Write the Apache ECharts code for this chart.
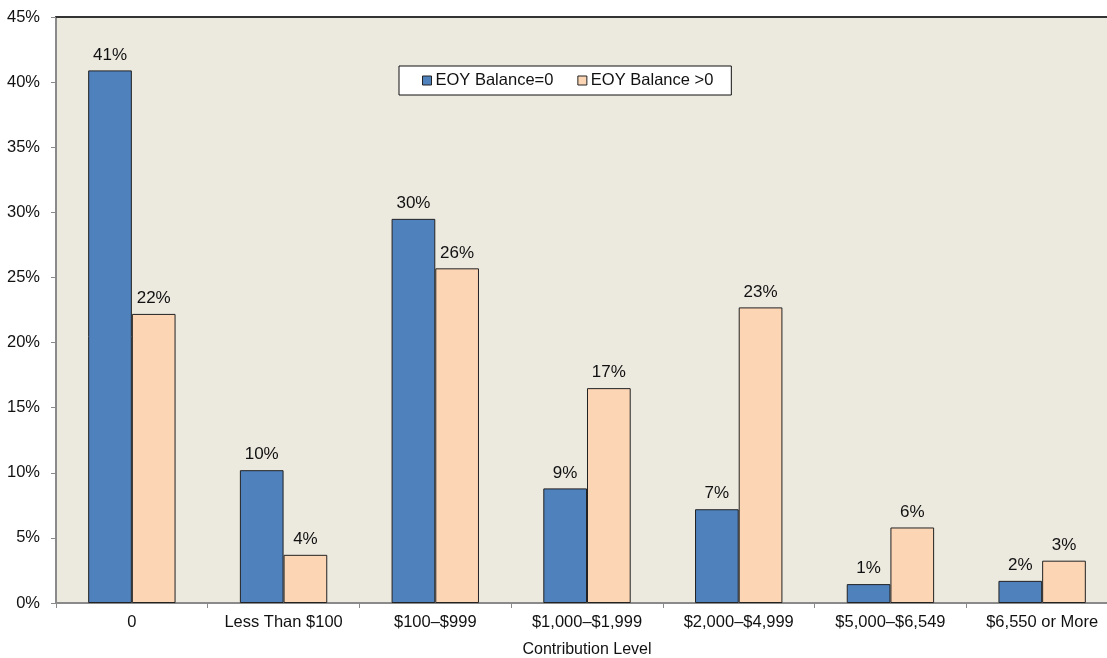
<!DOCTYPE html>
<html>
<head>
<meta charset="utf-8">
<script src="https://cdn.jsdelivr.net/npm/echarts@6/dist/echarts.min.js"></script>
<style>
  html, body { margin: 0; padding: 0; background: #ffffff; }
  #chart { width: 1107px; height: 658px; }
</style>
</head>
<body>
<div id="chart"></div>
<script>
// Contribution levels on the category axis
const categories = ['0', 'Less Than $100', '$100\u2013$999', '$1,000\u2013$1,999',
  '$2,000\u2013$4,999', '$5,000\u2013$6,549', '$6,550 or More'];
const seriesNames = ['EOY Balance=0', 'EOY Balance >0'];
// Share of accounts (percent) at each contribution level
const balanceZero = [40.9, 10.2, 29.5, 8.8, 7.2, 1.45, 1.7];
const balancePositive = [22.2, 3.7, 25.7, 16.5, 22.7, 5.8, 3.25];
const yTicks = [0, 5, 10, 15, 20, 25, 30, 35, 40, 45];

const FONT = 'Liberation Sans, Arial, sans-serif';
const chart = echarts.init(document.getElementById('chart'));

const barLabel = {
  show: true,
  position: 'top',
  distance: 7,
  fontFamily: FONT,
  fontSize: 17,
  color: '#111',
  formatter: p => Math.round(p.value) + '%'
};

chart.setOption({
  animation: false,
  backgroundColor: '#ffffff',
  grid: {
    left: 56, top: 17, bottom: 55, width: 1062,
    outerBoundsMode: 'none',
    containLabel: false,
    show: true, backgroundColor: '#ECE9DF', borderWidth: 0
  },
  legend: {
    data: seriesNames,
    left: 399, top: 66,
    padding: [6, 18, 6, 23],
    backgroundColor: '#ffffff',
    borderColor: '#111',
    borderWidth: 1,
    borderRadius: 0,
    itemWidth: 9, itemHeight: 9,
    itemGap: 24,
    icon: 'rect',
    itemStyle: { borderColor: '#222', borderWidth: 1 },
    textStyle: { fontFamily: FONT, fontSize: 16.5, color: '#111', padding: [0, 0, 0, -1] }
  },
  xAxis: [{
    type: 'category',
    data: categories,
    name: 'Contribution Level',
    nameLocation: 'middle',
    nameGap: 39,
    nameTextStyle: { fontFamily: FONT, fontSize: 16, color: '#111' },
    axisLine: { lineStyle: { color: '#8a8a8a', width: 2 } },
    axisTick: { show: true, length: 5, alignWithLabel: false, lineStyle: { color: '#8a8a8a', width: 1 } },
    axisLabel: { fontFamily: FONT, fontSize: 16.5, color: '#111', margin: 11, interval: 0 },
    splitLine: { show: false }
  }, {
    type: 'category',
    data: categories,
    position: 'top',
    axisLine: { lineStyle: { color: '#333', width: 2 } },
    axisTick: { show: false },
    axisLabel: { show: false },
    splitLine: { show: false }
  }],
  yAxis: {
    type: 'value',
    min: yTicks[0],
    max: yTicks[yTicks.length - 1],
    interval: yTicks[1] - yTicks[0],
    axisLine: { show: true, lineStyle: { color: '#8a8a8a', width: 2 } },
    axisTick: { show: true, length: 5, lineStyle: { color: '#8a8a8a', width: 1 } },
    axisLabel: { fontFamily: FONT, fontSize: 16.5, color: '#111', margin: 16, formatter: '{value}%' },
    splitLine: { show: false }
  },
  series: [{
    name: seriesNames[0],
    type: 'bar',
    data: balanceZero,
    barGap: '0%',
    barCategoryGap: '42.4%',
    itemStyle: { color: '#4F81BD', borderColor: '#222', borderWidth: 1 },
    label: barLabel
  }, {
    name: seriesNames[1],
    type: 'bar',
    data: balancePositive,
    itemStyle: { color: '#FCD5B5', borderColor: '#222', borderWidth: 1 },
    label: barLabel
  }]
});
</script>
</body>
</html>
